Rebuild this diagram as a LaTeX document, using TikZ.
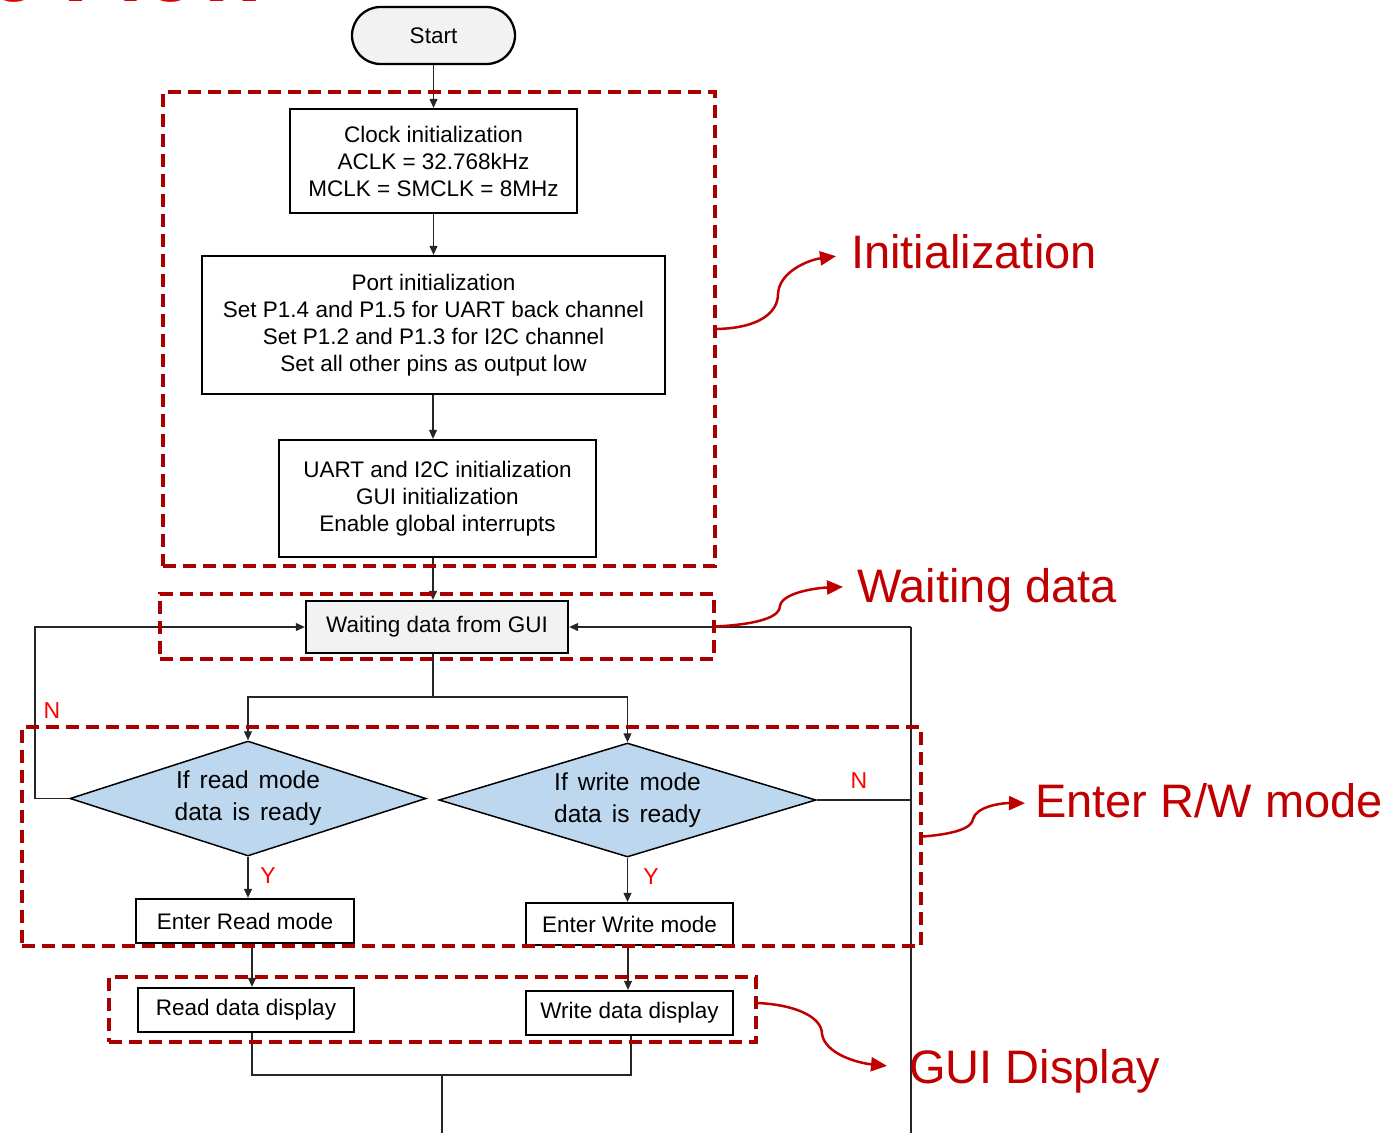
\documentclass[tikz,border=0pt]{standalone}
\usepackage{fontspec}
\setmainfont{Liberation Sans}
\usetikzlibrary{shapes.geometric,arrows.meta,calc}
\definecolor{zonered}{HTML}{A80000}
\definecolor{callred}{HTML}{C00000}
\definecolor{titlered}{HTML}{E10000}
\definecolor{boxgray}{HTML}{F2F2F2}
\definecolor{decblue}{HTML}{BDD7EE}
\newcommand{\wideword}{\spaceskip=10pt\relax}
\begin{document}
\begin{tikzpicture}[x=1pt,y=-1pt,
  txt/.style={font=\fontsize{22.5}{27}\selectfont},
  box/.style={draw=black,line width=2.3pt,inner sep=0pt,align=center,txt},
  decision/.style={diamond,draw=black,line width=1.5pt,fill=decblue,inner sep=0pt,
    align=center,font=\fontsize{24.5}{32}\selectfont},
  conn/.style={draw=black!85,line width=1.1pt},
  arr/.style={conn,-{Triangle[length=9pt,width=8pt]}},
  zone/.style={draw=zonered,line width=3.8pt,dash pattern=on 13pt off 7pt,inner sep=0pt},
  callout/.style={draw=callred,line width=2.5pt,-{Triangle[length=16pt,width=14pt]}},
  lbl/.style={text=callred,font=\fontsize{47}{50}\selectfont,anchor=base west,inner sep=0pt},
  yn/.style={text=red,font=\fontsize{23}{23}\selectfont,inner sep=0pt}]

\useasboundingbox (0,0) rectangle (1396,1132);
\clip (0,0) rectangle (1396,1132);

% page heading, running off the top edge
\node[text=titlered,font=\bfseries\fontsize{90}{90}\selectfont,anchor=base east,inner sep=0pt]
  (title) at (269,2) {Software Flow};

% flow steps
\node[box,fill=boxgray,rounded corners=28.5pt,minimum width=163pt,minimum height=57pt]
  (start) at (433.5,35.5) {Start};
\node[box,minimum width=287pt,minimum height=104pt] (clock) at (433.5,161)
  {Clock initialization\\ACLK = 32.768kHz\\MCLK = SMCLK = 8MHz};
\node[box,minimum width=463pt,minimum height=138pt] (port) at (433.5,325)
  {Port initialization\\Set P1.4 and P1.5 for UART back channel\\Set P1.2 and P1.3 for I2C channel\\Set all other pins as output low};
\node[box,minimum width=317pt,minimum height=117pt] (uart) at (437.5,498.5)
  {UART and I2C initialization\\GUI initialization\\Enable global interrupts};
\node[box,fill=boxgray,minimum width=262pt,minimum height=52pt] (wait) at (437,627)
  {Waiting data from GUI};
\node[decision,aspect=3.1,minimum width=356pt,minimum height=115pt] (rd) at (248,798.5)
  {\wideword If read mode\\\wideword data is ready};
\node[decision,aspect=3.3,minimum width=377pt,minimum height=114pt] (wd) at (627.5,800)
  {\wideword If write mode\\\wideword data is ready};
\node[box,minimum width=218pt,minimum height=44pt] (eread) at (245,921) {Enter Read mode};
\node[box,minimum width=207pt,minimum height=42pt] (ewrite) at (629.5,924) {Enter Write mode};
\node[box,minimum width=216pt,minimum height=44pt] (dread) at (246,1010) {Read data display};
\node[box,minimum width=207pt,minimum height=44pt] (dwrite) at (629.5,1013) {Write data display};

% branch labels
\node[yn] (nread) at (52,711) {N};
\node[yn] (nwrite) at (859,781) {N};
\node[yn] (yread) at (268,876) {Y};
\node[yn] (ywrite) at (651,877) {Y};

% helper coordinates for connector columns
\coordinate (spine) at (433,0);
\coordinate (split) at (433,697);
\coordinate (lloop) at (35,0);
\coordinate (rtop) at (911,627);
\coordinate (rbot) at (911,1140);
\coordinate (rcol) at (252,0);
\coordinate (wcol) at (628,0);
\coordinate (wcol2) at (631,0);
\coordinate (merge) at (442,1075);
\coordinate (mbot) at (442,1140);

% connectors
\draw[arr] (start) -- (clock);
\draw[arr] (clock) -- (port);
\draw[arr] (port.south -| spine) -- (uart.north -| spine);
\draw[arr] (uart.south -| spine) -- (wait.north -| spine);
\draw[conn] (wait.south -| spine) -- (split);
\draw[arr] (split) -| (rd.north);
\draw[arr] (split) -| (wd.north);
\draw[arr] (rd.west) -| (lloop |- wait.west) -- (wait.west);
\draw[conn] (rtop) -- (rbot);
\draw[arr] (rtop) -- (wait.east);
\draw[conn] (wd.east) -- (wd.east -| rtop);
\draw[arr] (rd.south) -- (eread.north -| rd.south);
\draw[arr] (wd.south) -- (ewrite.north -| wd.south);
\draw[arr] (eread.south -| rcol) -- (dread.north -| rcol);
\draw[arr] (ewrite.south -| wcol) -- (dwrite.north -| wcol);
\draw[conn] (dread.south -| rcol) |- (merge) -| (dwrite.south -| wcol2);
\draw[conn] (merge) -- (mbot);

% dashed stage frames
\node[zone,minimum width=552pt,minimum height=474pt] (zinit) at (439,329) {};
\node[zone,minimum width=554pt,minimum height=65pt] (zwait) at (437,626.5) {};
\node[zone,minimum width=899pt,minimum height=219pt] (zrw) at (471.5,836.5) {};
\node[zone,minimum width=647pt,minimum height=65pt] (zgui) at (432.5,1009.5) {};

% stage names
\node[lbl] (linit) at (851,268) {Initialization};
\node[lbl] (lwait) at (857,602) {Waiting data};
\node[lbl] (lrw) at (1035,817) {Enter R/W mode};
\node[lbl] (lgui) at (909,1083) {GUI Display};

% callout arrows
\draw[callout] (zinit.east) .. controls (760,328) and (778,312) .. (778,294)
  .. controls (779,272) and (808,260) .. ([xshift=-15pt,yshift=-5pt]linit.west);
\draw[callout] (zwait.east) .. controls (762,624) and (780,616) .. (780,606)
  .. controls (782,593) and (815,588) .. ([xshift=-14pt,yshift=3pt]lwait.west);
\draw[callout] (zrw.east) .. controls (955,834) and (972,828) .. (973,819)
  .. controls (976,807) and (1000,803) .. ([xshift=-10pt,yshift=-3pt]lrw.west);
\draw[callout] ([yshift=6.5pt]zgui.east) .. controls (798,1005) and (822,1018) .. (822,1034)
  .. controls (825,1054) and (858,1063) .. ([xshift=-22pt,yshift=5pt]lgui.west);
\end{tikzpicture}
\end{document}
